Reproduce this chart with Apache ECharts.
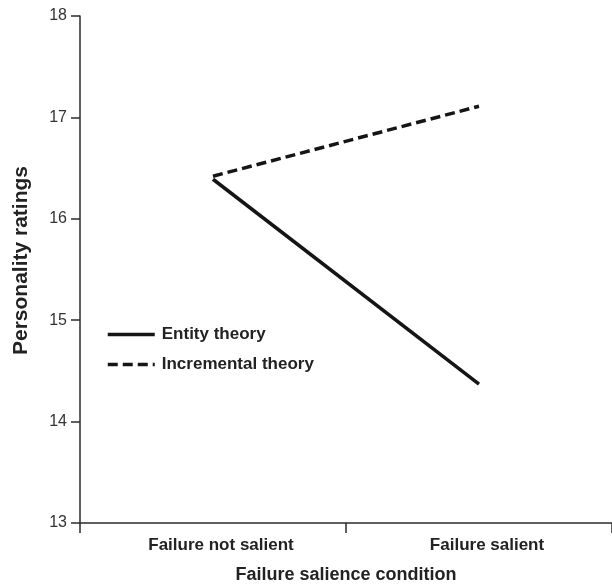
<!DOCTYPE html>
<html>
<head>
<meta charset="utf-8">
<script src="https://cdn.jsdelivr.net/npm/echarts@6/dist/echarts.min.js"></script>
<style>
  html, body { margin: 0; padding: 0; background: #fff; }
  #chart { width: 612px; height: 588px; }
</style>
</head>
<body>
<div id="chart"></div>
<script>
// Personality ratings by failure salience condition
const conditions  = ['Failure not salient', 'Failure salient'];
const entity      = [16.39, 14.37];
const incremental = [16.42, 17.11];

const chart = echarts.init(document.getElementById('chart'), null, { renderer: 'canvas' });
const axisCol = '#2b2b2b';
const font = 'Liberation Sans, Arial, sans-serif';

chart.setOption({
  backgroundColor: '#fff',
  animation: false,
  grid: { left: 80, right: 0, top: 16, bottom: 65, outerBoundsMode: 'none' },
  legend: {
    orient: 'vertical',
    left: 106, top: 326, padding: 0,
    itemWidth: 47, itemHeight: 14, itemGap: 13,
    itemStyle: { opacity: 0 },
    lineStyle: { width: 3.5 },
    textStyle: { fontFamily: font, fontSize: 17, fontWeight: 'bold', color: '#222', padding: [0, 0, 0, 2] },
    data: ['Entity theory', 'Incremental theory']
  },
  xAxis: {
    type: 'category',
    data: conditions,
    boundaryGap: true,
    name: 'Failure salience condition',
    nameLocation: 'middle',
    nameGap: 43,
    nameTextStyle: { fontFamily: font, fontSize: 18, fontWeight: 'bold', color: '#222' },
    axisLine: { lineStyle: { color: axisCol, width: 1.5 } },
    axisTick: { show: true, length: 10, alignWithLabel: false, lineStyle: { color: axisCol, width: 1.5 } },
    axisLabel: { fontFamily: font, fontSize: 17, fontWeight: 'bold', color: '#222', margin: 14, padding: [0, 0, 0, 16] },
    splitLine: { show: false }
  },
  yAxis: {
    type: 'value',
    min: 13, max: 18, interval: 1,
    name: 'Personality ratings',
    nameLocation: 'middle',
    nameGap: 48,
    nameTextStyle: { fontFamily: font, fontSize: 21, fontWeight: 'bold', color: '#222', padding: [0, 0, 0, 18] },
    axisLine: { show: true, lineStyle: { color: axisCol, width: 1.5 } },
    axisTick: { show: true, length: 9, lineStyle: { color: axisCol, width: 1.5 } },
    axisLabel: { fontFamily: font, fontSize: 16, color: '#333', margin: 13 },
    splitLine: { show: false }
  },
  series: [
    {
      name: 'Entity theory',
      type: 'line',
      data: entity,
      symbol: 'none',
      lineStyle: { color: '#151515', width: 3.5, type: 'solid' },
      itemStyle: { color: '#151515' }
    },
    {
      name: 'Incremental theory',
      type: 'line',
      data: incremental,
      symbol: 'none',
      lineStyle: { color: '#151515', width: 3.5, type: [10, 5] },
      itemStyle: { color: '#151515' }
    }
  ]
});
</script>
</body>
</html>
